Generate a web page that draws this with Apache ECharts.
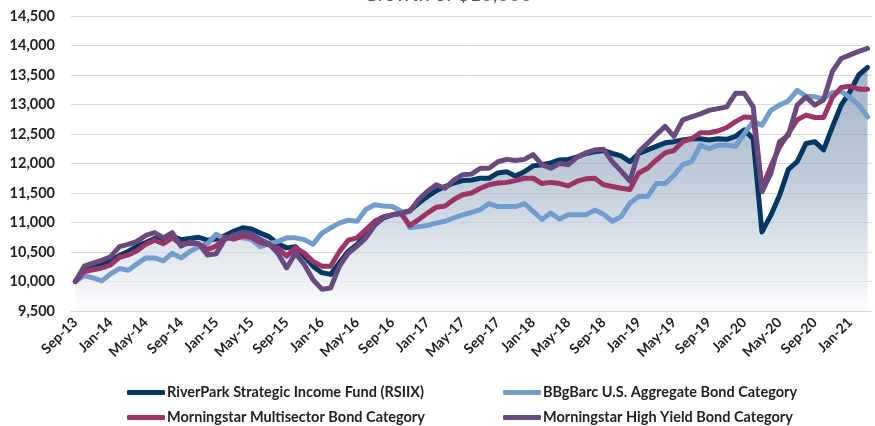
<!DOCTYPE html>
<html>
<head>
<meta charset="utf-8">
<script src="https://cdn.jsdelivr.net/npm/echarts@6/dist/echarts.min.js"></script>
<style>
  html, body { margin: 0; padding: 0; background: #fff; }
  #chart { width: 875px; height: 426px; }
</style>
</head>
<body>
<div id="chart"></div>
<script>
// monthly, Sep-13 .. Mar-21
const monthNames = ['Jan', 'Feb', 'Mar', 'Apr', 'May', 'Jun', 'Jul', 'Aug', 'Sep', 'Oct', 'Nov', 'Dec'];
const months = [];
for (let k = 0; k < 91; k++) {
  const m = (8 + k) % 12;
  const y = 13 + Math.floor((8 + k) / 12);
  months.push(monthNames[m] + '-' + y);
}

const yTicks = { min: 9500, max: 14500, step: 500 };

const riverPark = [
  10000, 10200, 10240, 10300, 10350, 10440, 10510, 10600, 10660, 10730,
  10730, 10770, 10710, 10730, 10750, 10700, 10720, 10780, 10850, 10910,
  10890, 10820, 10760, 10640, 10570, 10590, 10430, 10260, 10150, 10120,
  10320, 10510, 10630, 10790, 10960, 11080, 11130, 11160, 11200, 11330,
  11440, 11540, 11610, 11670, 11710, 11720, 11750, 11750, 11840, 11860,
  11790, 11860, 11960, 11980, 12010, 12060, 12070, 12110, 12170, 12200,
  12220, 12170, 12130, 12030, 12170, 12230, 12290, 12350, 12370, 12400,
  12420, 12420, 12400, 12420, 12410, 12460, 12570, 12420, 10840, 11120,
  11460, 11900, 12030, 12340, 12370, 12230, 12620, 12990, 13220, 13500,
  13630
];

const aggBond = [
  10000, 10100, 10060, 10010, 10130, 10220, 10190, 10300, 10400, 10400,
  10350, 10480, 10400, 10510, 10590, 10640, 10800, 10720, 10750, 10740,
  10710, 10590, 10640, 10680, 10740, 10740, 10710, 10630, 10820, 10910,
  10990, 11040, 11020, 11220, 11300, 11280, 11270, 11190, 10910, 10930,
  10950, 10990, 11020, 11080, 11130, 11170, 11220, 11320, 11270, 11270,
  11270, 11320, 11190, 11050, 11160, 11060, 11130, 11130, 11130, 11210,
  11140, 11020, 11100, 11330, 11440, 11440, 11660, 11660, 11800, 11980,
  12030, 12310, 12250, 12310, 12310, 12290, 12510, 12710, 12650, 12900,
  12990, 13060, 13240, 13140, 13130, 13100, 13200, 13220, 13120, 12990,
  12790
];

const multisector = [
  10000, 10170, 10200, 10230, 10280, 10410, 10450, 10520, 10630, 10700,
  10640, 10740, 10630, 10650, 10640, 10540, 10600, 10750, 10720, 10770,
  10750, 10660, 10620, 10570, 10430, 10570, 10480, 10340, 10260, 10260,
  10510, 10700, 10740, 10880, 11020, 11100, 11130, 11150, 10950, 11050,
  11160, 11260, 11280, 11390, 11470, 11500, 11580, 11640, 11670, 11680,
  11710, 11750, 11750, 11660, 11680, 11660, 11620, 11700, 11740, 11750,
  11640, 11610, 11580, 11560, 11840, 11920, 12060, 12180, 12220, 12370,
  12420, 12520, 12520, 12550, 12610, 12710, 12790, 12780, 11580, 11950,
  12280, 12510, 12740, 12820, 12780, 12780, 13120, 13290, 13310, 13260,
  13260
];

const highYield = [
  10000, 10260, 10310, 10360, 10420, 10590, 10630, 10680, 10780, 10830,
  10740, 10830, 10600, 10670, 10640, 10450, 10470, 10720, 10790, 10830,
  10810, 10710, 10640, 10480, 10230, 10480, 10290, 10030, 9870, 9890,
  10260, 10480, 10600, 10740, 10950, 11090, 11130, 11160, 11190, 11390,
  11530, 11640, 11580, 11720, 11810, 11820, 11920, 11920, 12030, 12070,
  12050, 12070, 12150, 11980, 11920, 12000, 11980, 12110, 12180, 12230,
  12240, 12030, 11870, 11700, 12200, 12340, 12490, 12630, 12460, 12740,
  12790, 12840, 12900, 12930, 12960, 13190, 13190, 12960, 11520, 11830,
  12370, 12480, 12990, 13130, 12990, 13080, 13560, 13780, 13840, 13900,
  13950
];

const names = [
  'RiverPark Strategic Income Fund (RSIIX)',
  'BBgBarc U.S. Aggregate Bond Category',
  'Morningstar Multisector Bond Category',
  'Morningstar High Yield Bond Category'
];
const colors = ['#033764', '#719dce', '#9c3465', '#694a7e'];

const font = 'Lato, "Open Sans", sans-serif';
const chart = echarts.init(document.getElementById('chart'), null, { renderer: 'canvas' });

function lineSeries(idx, data, extra) {
  return Object.assign({
    name: names[idx],
    type: 'line',
    data: data,
    symbol: 'none',
    z: 2 + idx,
    lineStyle: { color: colors[idx], width: 5, cap: 'round', join: 'round' },
    itemStyle: { color: colors[idx] },
    emphasis: { disabled: true }
  }, extra || {});
}

function legendCol(left, items) {
  return {
    data: items,
    orient: 'vertical',
    left: left,
    top: 385,
    padding: 0,
    itemWidth: 38,
    itemHeight: 5,
    itemGap: 10,
    icon: 'roundRect',
    textStyle: {
      fontFamily: font, fontWeight: 'bold', fontSize: 14.5, color: '#1f1f1f',
      lineHeight: 15, padding: [0, 0, 0, -3]
    }
  };
}

chart.setOption({
  animation: false,
  backgroundColor: '#fff',
  title: {
    text: 'Growth of $10,000',
    left: 358,
    top: -20,
    textStyle: { fontFamily: font, fontWeight: 'normal', fontSize: 20, color: '#595959' }
  },
  grid: { left: 71, right: 3, top: 16, bottom: 115 },
  legend: [
    legendCol(127, [names[0], names[2]]),
    legendCol(503, [names[1], names[3]])
  ],
  xAxis: {
    type: 'category',
    data: months,
    boundaryGap: true,
    axisLine: { lineStyle: { color: '#d9d9d9', width: 1 } },
    axisTick: { interval: 3, length: 5, lineStyle: { color: '#d9d9d9' } },
    axisLabel: {
      interval: 3,
      rotate: 45,
      margin: 9,
      fontFamily: font,
      fontWeight: 'bold',
      fontSize: 14,
      color: '#1f1f1f'
    },
    splitLine: { show: false }
  },
  yAxis: {
    type: 'value',
    min: yTicks.min,
    max: yTicks.max,
    interval: yTicks.step,
    axisLine: { show: false },
    axisTick: { show: false },
    axisLabel: {
      margin: 16,
      fontFamily: font,
      fontWeight: 'bold',
      fontSize: 14.5,
      color: '#1f1f1f',
      formatter: v => v.toLocaleString('en-US')
    },
    splitLine: { lineStyle: { color: '#d9d9d9', width: 1 } }
  },
  series: [
    lineSeries(0, riverPark, {
      areaStyle: {
        color: new echarts.graphic.LinearGradient(0, 0, 0, 1, [
          { offset: 0, color: 'rgb(125,147,172)' },
          { offset: 0.45, color: 'rgb(165,182,201)' },
          { offset: 1, color: 'rgb(250,251,252)' }
        ])
      }
    }),
    lineSeries(1, aggBond),
    lineSeries(2, multisector),
    lineSeries(3, highYield)
  ]
});
</script>
</body>
</html>
